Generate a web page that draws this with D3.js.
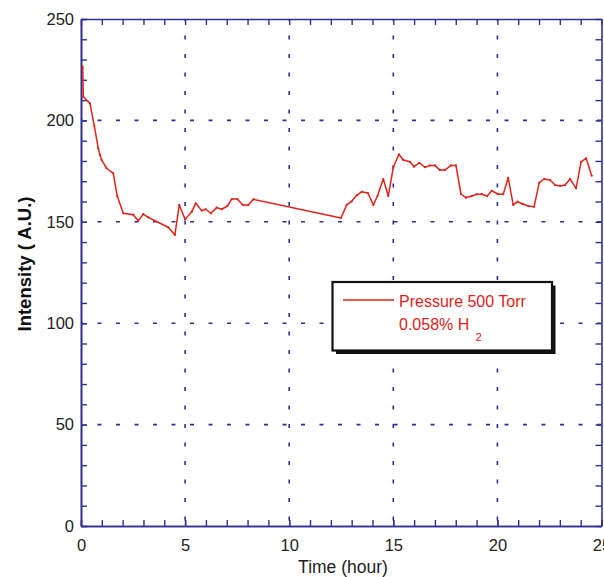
<!DOCTYPE html>
<html>
<head>
<meta charset="utf-8">
<script src="https://cdn.jsdelivr.net/npm/d3@7"></script>
<style>
  html, body { margin: 0; padding: 0; background: #fff; }
  svg { display: block; font-family: "Liberation Sans", Arial, Helvetica, sans-serif; }
</style>
</head>
<body>
<svg id="chart" width="604" height="577"></svg>
<script>
// Intensity of the emission over time, 500 Torr, 0.058% H2
const timeHours = [0.08, 0.11, 0.43, 0.64, 0.83, 0.91, 0.99, 1.23, 1.55, 1.74, 2.03, 2.51, 2.75, 2.99, 3.23, 3.55,
  4.19, 4.51, 4.72, 5.0, 5.32, 5.51, 5.80, 5.99, 6.24, 6.52, 6.76, 7.03, 7.24, 7.51, 7.77, 8.04, 8.28,
  12.49, 12.76, 13.0, 13.26, 13.48, 13.78, 14.04, 14.24, 14.52, 14.76, 15.0, 15.27, 15.48, 15.80, 15.99,
  16.25, 16.52, 16.76, 17.0, 17.24, 17.48, 17.77, 18.01, 18.25, 18.49, 18.77, 19.01, 19.25, 19.51, 19.73,
  20.04, 20.28, 20.52, 20.76, 20.97, 21.22, 21.48, 21.76, 22.01, 22.25, 22.53, 22.77, 23.01, 23.25, 23.49,
  23.78, 24.02, 24.26, 24.53];
const intensity = [226.5, 211.7, 208.4, 197.2, 186.2, 183.0, 180.5, 176.4, 173.9, 162.7, 154.2, 153.5, 150.5, 153.8, 152.2, 150.5,
  147.3, 143.5, 158.3, 151.2, 155.0, 159.1, 155.5, 156.2, 154.2, 157.0, 156.2, 157.8, 161.2, 161.2, 158.3, 158.3, 161.1,
  151.9, 158.3, 160.1, 163.2, 164.8, 164.2, 158.3, 162.7, 171.1, 162.7, 176.9, 183.3, 180.5, 179.6, 177.2,
  179.1, 176.9, 177.8, 177.8, 175.5, 175.5, 177.8, 177.8, 163.7, 161.9, 162.7, 163.6, 163.6, 162.7, 165.3,
  163.6, 163.6, 171.7, 158.3, 159.9, 158.8, 157.8, 157.4, 169.3, 171.1, 170.6, 168.1, 167.7, 168.1, 171.1,
  166.5, 179.6, 181.3, 172.7];

const xTicks = [0, 5, 10, 15, 20, 25];
const yTicks = [0, 50, 100, 150, 200, 250];
const legendLines = ["Pressure 500 Torr", "0.058% H", "2"];
const axisLabels = { x: "Time (hour)", y: "Intensity ( A.U.)" };

const axisColor = "#2f3192";
const lineColor = "#e2231a";

const plot = { left: 81, right: 601.5, top: 19, bottom: 526 };

const svg = d3.select("#chart");
const x = d3.scaleLinear().domain([0, 25]).range([plot.left, plot.right]);
const y = d3.scaleLinear().domain([0, 250]).range([plot.bottom, plot.top]);

// dotted grid at major ticks
const grid = svg.append("g").attr("stroke", axisColor).attr("stroke-width", 1.6)
  .attr("stroke-dasharray", "4 14.5").attr("fill", "none");
grid.selectAll("line.v").data(xTicks.slice(1, -1)).join("line")
  .attr("x1", d => x(d)).attr("x2", d => x(d))
  .attr("y1", plot.top).attr("y2", plot.bottom).attr("stroke-dashoffset", 2);
grid.selectAll("line.h").data(yTicks.slice(1, -1)).join("line")
  .attr("y1", d => y(d)).attr("y2", d => y(d))
  .attr("x1", plot.left).attr("x2", plot.right).attr("stroke-dashoffset", 2);

// axes: major labelled ticks + minor ticks, pointing inward, mirrored on top/right
function styleAxis(g) {
  g.select(".domain").attr("stroke", axisColor).attr("stroke-width", 1.6);
  g.selectAll(".tick line").attr("stroke", axisColor).attr("stroke-width", 1.4);
  g.selectAll(".tick text").attr("fill", "#222").attr("font-size", 16.5)
    .attr("font-family", "Liberation Sans, Arial, sans-serif");
}
const minorX = d3.range(0, 26, 1);
const minorY = d3.range(0, 251, 10);

svg.append("g").attr("transform", `translate(0,${plot.bottom})`)
  .call(d3.axisBottom(x).tickValues(minorX).tickFormat("").tickSizeInner(-6).tickSizeOuter(0))
  .call(styleAxis);
svg.append("g").attr("transform", `translate(0,${plot.bottom})`)
  .call(d3.axisBottom(x).tickValues(xTicks).tickFormat(d3.format("d")).tickSizeInner(-6).tickSizeOuter(0).tickPadding(13))
  .call(styleAxis);
svg.append("g").attr("transform", `translate(0,${plot.top})`)
  .call(d3.axisTop(x).tickValues(minorX).tickFormat("").tickSizeInner(-6).tickSizeOuter(0))
  .call(styleAxis);
svg.append("g").attr("transform", `translate(${plot.left},0)`)
  .call(d3.axisLeft(y).tickValues(minorY).tickFormat("").tickSizeInner(-6).tickSizeOuter(0))
  .call(styleAxis);
svg.append("g").attr("transform", `translate(${plot.left},0)`)
  .call(d3.axisLeft(y).tickValues(yTicks).tickFormat(d3.format("d")).tickSizeInner(-6).tickSizeOuter(0).tickPadding(7))
  .call(styleAxis);
svg.append("g").attr("transform", `translate(${plot.right},0)`)
  .call(d3.axisRight(y).tickValues(minorY).tickFormat("").tickSizeInner(-6).tickSizeOuter(0))
  .call(styleAxis);

// data line with small point markers
const pts = timeHours.map((t, i) => [t, intensity[i]]);
svg.append("path").datum(pts)
  .attr("fill", "none").attr("stroke", lineColor).attr("stroke-width", 1.5)
  .attr("stroke-linejoin", "round")
  .attr("d", d3.line().x(d => x(d[0])).y(d => y(d[1])));
svg.append("g").selectAll("circle").data(pts).join("circle")
  .attr("cx", d => x(d[0])).attr("cy", d => y(d[1])).attr("r", 1.1).attr("fill", lineColor);

// axis titles
svg.append("text").attr("x", 343).attr("y", 573).attr("text-anchor", "middle")
  .attr("font-size", 17.5).attr("fill", "#222").text(axisLabels.x);
svg.append("text").attr("transform", "translate(30.5,264) rotate(-90)").attr("text-anchor", "middle")
  .attr("font-size", 18.5).attr("font-weight", "bold").attr("fill", "#111").text(axisLabels.y);

// legend box with drop shadow
const lg = svg.append("g");
const box = { x: 332.5, y: 282, w: 219.5, h: 68.5 };
lg.append("rect").attr("x", box.x + 3.5).attr("y", box.y + 3.5).attr("width", box.w).attr("height", box.h)
  .attr("fill", "#111");
lg.append("rect").attr("x", box.x).attr("y", box.y).attr("width", box.w).attr("height", box.h)
  .attr("fill", "#fff").attr("stroke", "#111").attr("stroke-width", 2.2);
lg.append("line").attr("x1", 343).attr("x2", 394).attr("y1", 300).attr("y2", 300)
  .attr("stroke", lineColor).attr("stroke-width", 1.3);
lg.append("text").attr("x", 399).attr("y", 306.5).attr("font-size", 16).attr("fill", lineColor).text(legendLines[0]);
const t2 = lg.append("text").attr("x", 399).attr("y", 329.5).attr("font-size", 16).attr("fill", lineColor);
t2.append("tspan").text(legendLines[1]);
t2.append("tspan").attr("x", 475.5).attr("y", 340.5).attr("font-size", 11.5).text(legendLines[2]);
</script>
</body>
</html>
